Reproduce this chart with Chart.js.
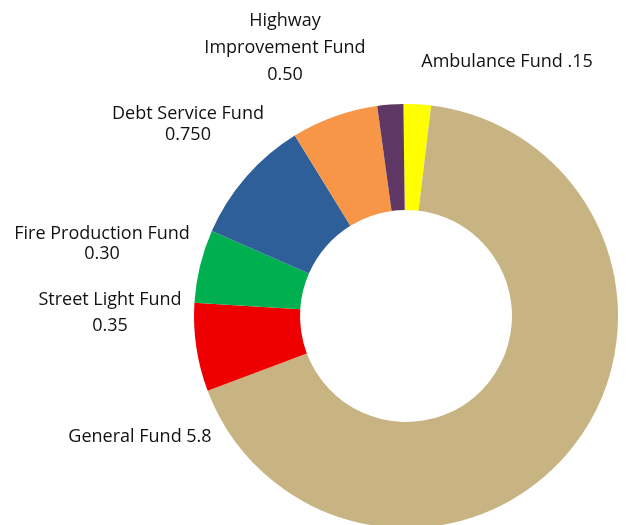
<!DOCTYPE html>
<html>
<head>
<meta charset="utf-8">
<script src="https://cdn.jsdelivr.net/npm/chart.js@4"></script>
<style>
  html, body { margin: 0; padding: 0; background: #fff; overflow: hidden; }
  #wrap { width: 626px; height: 525px; overflow: hidden; }
</style>
</head>
<body>
<div id="wrap"><canvas id="chart" width="626" height="530"></canvas></div>
<script>
// fund names, clockwise from 12 o'clock
const categories = ['Ambulance Fund', 'General Fund', 'Street Light Fund', 'Fire Production Fund',
  'Debt Service Fund', 'Highway Improvement Fund', 'Other Fund'];
// slice sizes
const values = [0.18, 5.8, 0.58, 0.48, 0.83, 0.57, 0.17];
// value text printed next to each name
const valueText = ['.15', '5.8', '0.35', '0.30', '0.750', '0.50', ''];
const colors = ['#FFFF00', '#C8B383', '#EE0000', '#00B050', '#2E5F98', '#F79646', '#5E3765'];

// where each label block sits (lines, centre x, first line y, line gap)
const labelLayout = [
  { lines: [categories[0] + ' ' + valueText[0]], x: 507, y: 62, gap: 0 },
  { lines: [categories[1] + ' ' + valueText[1]], x: 140, y: 437, gap: 0 },
  { lines: ['Street Light Fund', valueText[2]], x: 110, y: 300, gap: 26 },
  { lines: ['Fire Production Fund', valueText[3]], x: 102, y: 234, gap: 20 },
  { lines: ['Debt Service Fund', valueText[4]], x: 188, y: 114, gap: 21 },
  { lines: ['Highway', 'Improvement Fund', valueText[5]], x: 285, y: 21, gap: 27 },
];

const fundLabels = {
  id: 'fundLabels',
  afterDraw(chart) {
    const ctx = chart.ctx;
    ctx.save();
    ctx.font = '18px "Open Sans"';
    ctx.fillStyle = '#111';
    ctx.textAlign = 'center';
    ctx.textBaseline = 'middle';
    labelLayout.forEach(l => {
      l.lines.forEach((t, i) => ctx.fillText(t, l.x, l.y + i * l.gap));
    });
    ctx.restore();
  }
};

new Chart(document.getElementById('chart').getContext('2d'), {
  type: 'doughnut',
  data: {
    labels: categories,
    datasets: [{
      data: values,
      backgroundColor: colors,
      borderWidth: 0,
    }],
  },
  options: {
    responsive: false,
    devicePixelRatio: 1,
    animation: false,
    cutout: '50%',
    rotation: -0.7,
    layout: { padding: { left: 194, top: 104, right: 8, bottom: 2 } },
    plugins: {
      legend: { display: false },
      tooltip: { enabled: false },
    },
    events: [],
  },
  plugins: [fundLabels],
});
</script>
</body>
</html>
